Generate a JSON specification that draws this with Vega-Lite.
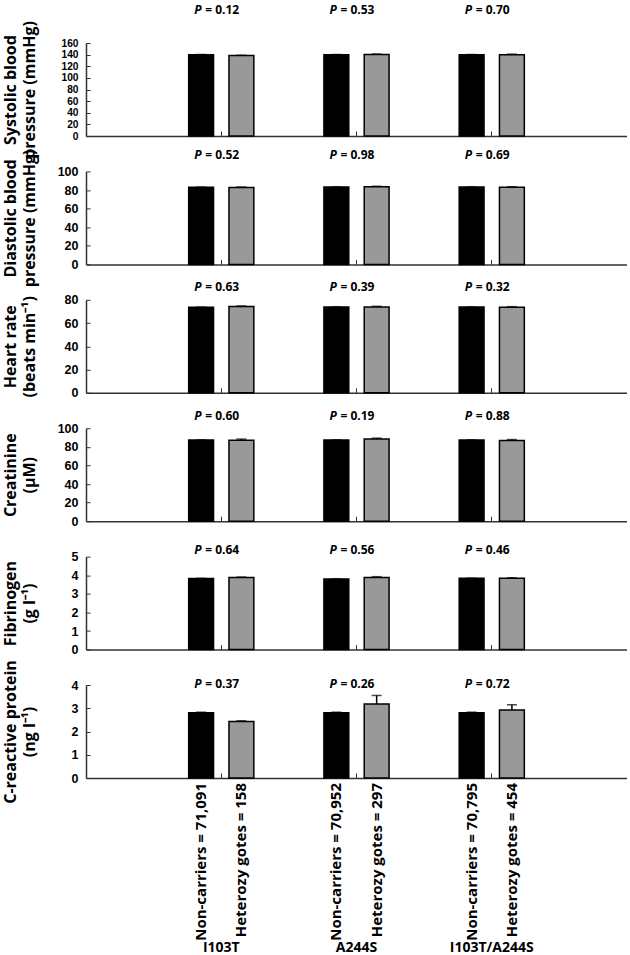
{
  "$schema": "https://vega.github.io/schema/vega-lite/v6.json",
  "padding": {"left": 2, "top": 3, "right": 0, "bottom": 0},
  "bounds": "flush",
  "spacing": 35.4,
  "datasets": {
    "bars": [
      {"measure": "SBP", "variant": "I103T", "genotype": "Non-carriers", "label": "Non-carriers = 71,091", "mean": 140, "hi": 140.2},
      {"measure": "SBP", "variant": "I103T", "genotype": "Heterozygotes", "label": "Heterozy gotes = 158", "mean": 138.3, "hi": 138.9},
      {"measure": "SBP", "variant": "A244S", "genotype": "Non-carriers", "label": "Non-carriers = 70,952", "mean": 140, "hi": 140.2},
      {"measure": "SBP", "variant": "A244S", "genotype": "Heterozygotes", "label": "Heterozy gotes = 297", "mean": 140.2, "hi": 141},
      {"measure": "SBP", "variant": "I103T/A244S", "genotype": "Non-carriers", "label": "Non-carriers = 70,795", "mean": 140, "hi": 140.2},
      {"measure": "SBP", "variant": "I103T/A244S", "genotype": "Heterozygotes", "label": "Heterozy gotes = 454", "mean": 140, "hi": 140.8},
      {"measure": "DBP", "variant": "I103T", "genotype": "Non-carriers", "label": "Non-carriers = 71,091", "mean": 83, "hi": 83.1},
      {"measure": "DBP", "variant": "I103T", "genotype": "Heterozygotes", "label": "Heterozy gotes = 158", "mean": 82.6, "hi": 83.2},
      {"measure": "DBP", "variant": "A244S", "genotype": "Non-carriers", "label": "Non-carriers = 70,952", "mean": 83.2, "hi": 83.3},
      {"measure": "DBP", "variant": "A244S", "genotype": "Heterozygotes", "label": "Heterozy gotes = 297", "mean": 83.5, "hi": 84},
      {"measure": "DBP", "variant": "I103T/A244S", "genotype": "Non-carriers", "label": "Non-carriers = 70,795", "mean": 83.2, "hi": 83.3},
      {"measure": "DBP", "variant": "I103T/A244S", "genotype": "Heterozygotes", "label": "Heterozy gotes = 454", "mean": 83, "hi": 83.5},
      {"measure": "HR", "variant": "I103T", "genotype": "Non-carriers", "label": "Non-carriers = 71,091", "mean": 73.6, "hi": 73.7},
      {"measure": "HR", "variant": "I103T", "genotype": "Heterozygotes", "label": "Heterozy gotes = 158", "mean": 74.2, "hi": 74.7},
      {"measure": "HR", "variant": "A244S", "genotype": "Non-carriers", "label": "Non-carriers = 70,952", "mean": 73.8, "hi": 73.9},
      {"measure": "HR", "variant": "A244S", "genotype": "Heterozygotes", "label": "Heterozy gotes = 297", "mean": 73.9, "hi": 74.4},
      {"measure": "HR", "variant": "I103T/A244S", "genotype": "Non-carriers", "label": "Non-carriers = 70,795", "mean": 73.7, "hi": 73.8},
      {"measure": "HR", "variant": "I103T/A244S", "genotype": "Heterozygotes", "label": "Heterozy gotes = 454", "mean": 73.6, "hi": 74.1},
      {"measure": "CRE", "variant": "I103T", "genotype": "Non-carriers", "label": "Non-carriers = 71,091", "mean": 87.3, "hi": 87.4},
      {"measure": "CRE", "variant": "I103T", "genotype": "Heterozygotes", "label": "Heterozy gotes = 158", "mean": 87, "hi": 88.3},
      {"measure": "CRE", "variant": "A244S", "genotype": "Non-carriers", "label": "Non-carriers = 70,952", "mean": 87.3, "hi": 87.4},
      {"measure": "CRE", "variant": "A244S", "genotype": "Heterozygotes", "label": "Heterozy gotes = 297", "mean": 88.3, "hi": 89.3},
      {"measure": "CRE", "variant": "I103T/A244S", "genotype": "Non-carriers", "label": "Non-carriers = 70,795", "mean": 87.3, "hi": 87.4},
      {"measure": "CRE", "variant": "I103T/A244S", "genotype": "Heterozygotes", "label": "Heterozy gotes = 454", "mean": 86.8, "hi": 87.8},
      {"measure": "FIB", "variant": "I103T", "genotype": "Non-carriers", "label": "Non-carriers = 71,091", "mean": 3.82, "hi": 3.83},
      {"measure": "FIB", "variant": "I103T", "genotype": "Heterozygotes", "label": "Heterozy gotes = 158", "mean": 3.87, "hi": 3.9},
      {"measure": "FIB", "variant": "A244S", "genotype": "Non-carriers", "label": "Non-carriers = 70,952", "mean": 3.79, "hi": 3.8},
      {"measure": "FIB", "variant": "A244S", "genotype": "Heterozygotes", "label": "Heterozy gotes = 297", "mean": 3.88, "hi": 3.92},
      {"measure": "FIB", "variant": "I103T/A244S", "genotype": "Non-carriers", "label": "Non-carriers = 70,795", "mean": 3.83, "hi": 3.84},
      {"measure": "FIB", "variant": "I103T/A244S", "genotype": "Heterozygotes", "label": "Heterozy gotes = 454", "mean": 3.83, "hi": 3.86},
      {"measure": "CRP", "variant": "I103T", "genotype": "Non-carriers", "label": "Non-carriers = 71,091", "mean": 2.81, "hi": 2.83},
      {"measure": "CRP", "variant": "I103T", "genotype": "Heterozygotes", "label": "Heterozy gotes = 158", "mean": 2.43, "hi": 2.46},
      {"measure": "CRP", "variant": "A244S", "genotype": "Non-carriers", "label": "Non-carriers = 70,952", "mean": 2.81, "hi": 2.83},
      {"measure": "CRP", "variant": "A244S", "genotype": "Heterozygotes", "label": "Heterozy gotes = 297", "mean": 3.18, "hi": 3.55},
      {"measure": "CRP", "variant": "I103T/A244S", "genotype": "Non-carriers", "label": "Non-carriers = 70,795", "mean": 2.81, "hi": 2.83},
      {"measure": "CRP", "variant": "I103T/A244S", "genotype": "Heterozygotes", "label": "Heterozy gotes = 454", "mean": 2.92, "hi": 3.15}
    ],
    "pvals": [
      {"measure": "SBP", "variant": "I103T", "ptext": "= 0.12"},
      {"measure": "SBP", "variant": "A244S", "ptext": "= 0.53"},
      {"measure": "SBP", "variant": "I103T/A244S", "ptext": "= 0.70"},
      {"measure": "DBP", "variant": "I103T", "ptext": "= 0.52"},
      {"measure": "DBP", "variant": "A244S", "ptext": "= 0.98"},
      {"measure": "DBP", "variant": "I103T/A244S", "ptext": "= 0.69"},
      {"measure": "HR", "variant": "I103T", "ptext": "= 0.63"},
      {"measure": "HR", "variant": "A244S", "ptext": "= 0.39"},
      {"measure": "HR", "variant": "I103T/A244S", "ptext": "= 0.32"},
      {"measure": "CRE", "variant": "I103T", "ptext": "= 0.60"},
      {"measure": "CRE", "variant": "A244S", "ptext": "= 0.19"},
      {"measure": "CRE", "variant": "I103T/A244S", "ptext": "= 0.88"},
      {"measure": "FIB", "variant": "I103T", "ptext": "= 0.64"},
      {"measure": "FIB", "variant": "A244S", "ptext": "= 0.56"},
      {"measure": "FIB", "variant": "I103T/A244S", "ptext": "= 0.46"},
      {"measure": "CRP", "variant": "I103T", "ptext": "= 0.37"},
      {"measure": "CRP", "variant": "A244S", "ptext": "= 0.26"},
      {"measure": "CRP", "variant": "I103T/A244S", "ptext": "= 0.72"}
    ]
  },
  "config": {
    "font": "Open Sans",
    "view": {"stroke": null},
    "axis": {
      "labelFont": "Open Sans", "labelFontWeight": "bold", "labelColor": "black", "labelFontSize": 12,
      "titleFont": "Open Sans", "titleFontWeight": "bold", "titleColor": "black", "titleFontSize": 16,
      "domainColor": "#333333", "domainWidth": 1.5, "tickColor": "#333333", "tickWidth": 1, "grid": false,
      "labelOverlap": false
    },
    "axisY": {"labelFont": "Liberation Sans", "labelFontSize": 12.5, "labelOverlap": false, "tickSize": -4, "labelPadding": 12, "titleX": -84, "titleBaseline": "top", "titleLineHeight": 19},
    "text": {"font": "Open Sans", "fontWeight": "bold", "fontSize": 12, "color": "black"}
  },
  "vconcat": [
    {
      "width": 541, "height": 93,
      "encoding": {
        "x": {"field": "variant", "type": "nominal", "sort": ["I103T", "A244S", "I103T/A244S"], "scale": {"paddingInner": 0, "paddingOuter": 0.5}, "axis": {"labels": false, "title": null, "tickSize": -5}}
      },
      "layer": [
        {"data": {"name": "bars"}, "transform": [{"filter": "datum.measure === 'SBP'"}], "mark": {"type": "bar", "stroke": "black", "strokeWidth": 1.5},
         "encoding": {
           "xOffset": {"field": "genotype", "type": "nominal", "sort": ["Non-carriers", "Heterozygotes"], "scale": {"paddingInner": 0.383, "paddingOuter": 0.87}},
           "y": {"field": "mean", "type": "quantitative", "scale": {"domain": [0, 160], "nice": false}, "axis": {"values": [0, 20, 40, 60, 80, 100, 120, 140, 160], "tickCount": 9, "labelFontSize": 10.2, "title": ["Systolic blood", "pressure (mmHg)"]}},
           "fill": {"field": "genotype", "type": "nominal", "scale": {"domain": ["Non-carriers", "Heterozygotes"], "range": ["#000000", "#999999"]}, "legend": null}
         }},
        {"data": {"name": "bars"}, "transform": [{"filter": "datum.measure === 'SBP'"}], "mark": {"type": "rule", "color": "black", "strokeWidth": 1.5},
         "encoding": {"xOffset": {"field": "genotype", "type": "nominal", "sort": ["Non-carriers", "Heterozygotes"]}, "y": {"field": "mean", "type": "quantitative"}, "y2": {"field": "hi"}}},
        {"data": {"name": "bars"}, "transform": [{"filter": "datum.measure === 'SBP'"}], "mark": {"type": "tick", "orient": "horizontal", "color": "black", "thickness": 1.5, "size": 10},
         "encoding": {"xOffset": {"field": "genotype", "type": "nominal", "sort": ["Non-carriers", "Heterozygotes"]}, "y": {"field": "hi", "type": "quantitative"}}},
        {"data": {"name": "pvals"}, "transform": [{"filter": "datum.measure === 'SBP'"}], "mark": {"type": "text", "fontStyle": "italic", "align": "left", "baseline": "bottom", "dx": -27, "dy": -26.5},
         "encoding": {"y": {"datum": 160}, "text": {"value": "P"}}},
        {"data": {"name": "pvals"}, "transform": [{"filter": "datum.measure === 'SBP'"}], "mark": {"type": "text", "align": "left", "baseline": "bottom", "dx": -16, "dy": -26.5},
         "encoding": {"y": {"datum": 160}, "text": {"field": "ptext"}}}
      ]
    },
    {
      "width": 541, "height": 93,
      "encoding": {
        "x": {"field": "variant", "type": "nominal", "sort": ["I103T", "A244S", "I103T/A244S"], "scale": {"paddingInner": 0, "paddingOuter": 0.5}, "axis": {"labels": false, "title": null, "tickSize": -5}}
      },
      "layer": [
        {"data": {"name": "bars"}, "transform": [{"filter": "datum.measure === 'DBP'"}], "mark": {"type": "bar", "stroke": "black", "strokeWidth": 1.5},
         "encoding": {
           "xOffset": {"field": "genotype", "type": "nominal", "sort": ["Non-carriers", "Heterozygotes"], "scale": {"paddingInner": 0.383, "paddingOuter": 0.87}},
           "y": {"field": "mean", "type": "quantitative", "scale": {"domain": [0, 100], "nice": false}, "axis": {"values": [0, 20, 40, 60, 80, 100], "tickCount": 6, "title": ["Diastolic blood", "pressure (mmHg)"]}},
           "fill": {"field": "genotype", "type": "nominal", "scale": {"domain": ["Non-carriers", "Heterozygotes"], "range": ["#000000", "#999999"]}, "legend": null}
         }},
        {"data": {"name": "bars"}, "transform": [{"filter": "datum.measure === 'DBP'"}], "mark": {"type": "rule", "color": "black", "strokeWidth": 1.5},
         "encoding": {"xOffset": {"field": "genotype", "type": "nominal", "sort": ["Non-carriers", "Heterozygotes"]}, "y": {"field": "mean", "type": "quantitative"}, "y2": {"field": "hi"}}},
        {"data": {"name": "bars"}, "transform": [{"filter": "datum.measure === 'DBP'"}], "mark": {"type": "tick", "orient": "horizontal", "color": "black", "thickness": 1.5, "size": 10},
         "encoding": {"xOffset": {"field": "genotype", "type": "nominal", "sort": ["Non-carriers", "Heterozygotes"]}, "y": {"field": "hi", "type": "quantitative"}}},
        {"data": {"name": "pvals"}, "transform": [{"filter": "datum.measure === 'DBP'"}], "mark": {"type": "text", "fontStyle": "italic", "align": "left", "baseline": "bottom", "dx": -27, "dy": -9.5},
         "encoding": {"y": {"datum": 100}, "text": {"value": "P"}}},
        {"data": {"name": "pvals"}, "transform": [{"filter": "datum.measure === 'DBP'"}], "mark": {"type": "text", "align": "left", "baseline": "bottom", "dx": -16, "dy": -9.5},
         "encoding": {"y": {"datum": 100}, "text": {"field": "ptext"}}}
      ]
    },
    {
      "width": 541, "height": 93,
      "encoding": {
        "x": {"field": "variant", "type": "nominal", "sort": ["I103T", "A244S", "I103T/A244S"], "scale": {"paddingInner": 0, "paddingOuter": 0.5}, "axis": {"labels": false, "title": null, "tickSize": -5}}
      },
      "layer": [
        {"data": {"name": "bars"}, "transform": [{"filter": "datum.measure === 'HR'"}], "mark": {"type": "bar", "stroke": "black", "strokeWidth": 1.5},
         "encoding": {
           "xOffset": {"field": "genotype", "type": "nominal", "sort": ["Non-carriers", "Heterozygotes"], "scale": {"paddingInner": 0.383, "paddingOuter": 0.87}},
           "y": {"field": "mean", "type": "quantitative", "scale": {"domain": [0, 80], "nice": false}, "axis": {"values": [0, 20, 40, 60, 80], "tickCount": 5, "title": ["Heart rate", "(beats min⁻¹)"]}},
           "fill": {"field": "genotype", "type": "nominal", "scale": {"domain": ["Non-carriers", "Heterozygotes"], "range": ["#000000", "#999999"]}, "legend": null}
         }},
        {"data": {"name": "bars"}, "transform": [{"filter": "datum.measure === 'HR'"}], "mark": {"type": "rule", "color": "black", "strokeWidth": 1.5},
         "encoding": {"xOffset": {"field": "genotype", "type": "nominal", "sort": ["Non-carriers", "Heterozygotes"]}, "y": {"field": "mean", "type": "quantitative"}, "y2": {"field": "hi"}}},
        {"data": {"name": "bars"}, "transform": [{"filter": "datum.measure === 'HR'"}], "mark": {"type": "tick", "orient": "horizontal", "color": "black", "thickness": 1.5, "size": 10},
         "encoding": {"xOffset": {"field": "genotype", "type": "nominal", "sort": ["Non-carriers", "Heterozygotes"]}, "y": {"field": "hi", "type": "quantitative"}}},
        {"data": {"name": "pvals"}, "transform": [{"filter": "datum.measure === 'HR'"}], "mark": {"type": "text", "fontStyle": "italic", "align": "left", "baseline": "bottom", "dx": -27, "dy": -5.5},
         "encoding": {"y": {"datum": 80}, "text": {"value": "P"}}},
        {"data": {"name": "pvals"}, "transform": [{"filter": "datum.measure === 'HR'"}], "mark": {"type": "text", "align": "left", "baseline": "bottom", "dx": -16, "dy": -5.5},
         "encoding": {"y": {"datum": 80}, "text": {"field": "ptext"}}}
      ]
    },
    {
      "width": 541, "height": 93,
      "encoding": {
        "x": {"field": "variant", "type": "nominal", "sort": ["I103T", "A244S", "I103T/A244S"], "scale": {"paddingInner": 0, "paddingOuter": 0.5}, "axis": {"labels": false, "title": null, "tickSize": -5}}
      },
      "layer": [
        {"data": {"name": "bars"}, "transform": [{"filter": "datum.measure === 'CRE'"}], "mark": {"type": "bar", "stroke": "black", "strokeWidth": 1.5},
         "encoding": {
           "xOffset": {"field": "genotype", "type": "nominal", "sort": ["Non-carriers", "Heterozygotes"], "scale": {"paddingInner": 0.383, "paddingOuter": 0.87}},
           "y": {"field": "mean", "type": "quantitative", "scale": {"domain": [0, 100], "nice": false}, "axis": {"values": [0, 20, 40, 60, 80, 100], "tickCount": 6, "title": ["Creatinine", "(μM)"]}},
           "fill": {"field": "genotype", "type": "nominal", "scale": {"domain": ["Non-carriers", "Heterozygotes"], "range": ["#000000", "#999999"]}, "legend": null}
         }},
        {"data": {"name": "bars"}, "transform": [{"filter": "datum.measure === 'CRE'"}], "mark": {"type": "rule", "color": "black", "strokeWidth": 1.5},
         "encoding": {"xOffset": {"field": "genotype", "type": "nominal", "sort": ["Non-carriers", "Heterozygotes"]}, "y": {"field": "mean", "type": "quantitative"}, "y2": {"field": "hi"}}},
        {"data": {"name": "bars"}, "transform": [{"filter": "datum.measure === 'CRE'"}], "mark": {"type": "tick", "orient": "horizontal", "color": "black", "thickness": 1.5, "size": 10},
         "encoding": {"xOffset": {"field": "genotype", "type": "nominal", "sort": ["Non-carriers", "Heterozygotes"]}, "y": {"field": "hi", "type": "quantitative"}}},
        {"data": {"name": "pvals"}, "transform": [{"filter": "datum.measure === 'CRE'"}], "mark": {"type": "text", "fontStyle": "italic", "align": "left", "baseline": "bottom", "dx": -27, "dy": -5},
         "encoding": {"y": {"datum": 100}, "text": {"value": "P"}}},
        {"data": {"name": "pvals"}, "transform": [{"filter": "datum.measure === 'CRE'"}], "mark": {"type": "text", "align": "left", "baseline": "bottom", "dx": -16, "dy": -5},
         "encoding": {"y": {"datum": 100}, "text": {"field": "ptext"}}}
      ]
    },
    {
      "width": 541, "height": 93,
      "encoding": {
        "x": {"field": "variant", "type": "nominal", "sort": ["I103T", "A244S", "I103T/A244S"], "scale": {"paddingInner": 0, "paddingOuter": 0.5}, "axis": {"labels": false, "title": null, "tickSize": -5}}
      },
      "layer": [
        {"data": {"name": "bars"}, "transform": [{"filter": "datum.measure === 'FIB'"}], "mark": {"type": "bar", "stroke": "black", "strokeWidth": 1.5},
         "encoding": {
           "xOffset": {"field": "genotype", "type": "nominal", "sort": ["Non-carriers", "Heterozygotes"], "scale": {"paddingInner": 0.383, "paddingOuter": 0.87}},
           "y": {"field": "mean", "type": "quantitative", "scale": {"domain": [0, 5], "nice": false}, "axis": {"values": [0, 1, 2, 3, 4, 5], "tickCount": 6, "title": ["Fibrinogen", "(g l⁻¹)"]}},
           "fill": {"field": "genotype", "type": "nominal", "scale": {"domain": ["Non-carriers", "Heterozygotes"], "range": ["#000000", "#999999"]}, "legend": null}
         }},
        {"data": {"name": "bars"}, "transform": [{"filter": "datum.measure === 'FIB'"}], "mark": {"type": "rule", "color": "black", "strokeWidth": 1.5},
         "encoding": {"xOffset": {"field": "genotype", "type": "nominal", "sort": ["Non-carriers", "Heterozygotes"]}, "y": {"field": "mean", "type": "quantitative"}, "y2": {"field": "hi"}}},
        {"data": {"name": "bars"}, "transform": [{"filter": "datum.measure === 'FIB'"}], "mark": {"type": "tick", "orient": "horizontal", "color": "black", "thickness": 1.5, "size": 10},
         "encoding": {"xOffset": {"field": "genotype", "type": "nominal", "sort": ["Non-carriers", "Heterozygotes"]}, "y": {"field": "hi", "type": "quantitative"}}},
        {"data": {"name": "pvals"}, "transform": [{"filter": "datum.measure === 'FIB'"}], "mark": {"type": "text", "fontStyle": "italic", "align": "left", "baseline": "bottom", "dx": -27, "dy": 0.5},
         "encoding": {"y": {"datum": 5}, "text": {"value": "P"}}},
        {"data": {"name": "pvals"}, "transform": [{"filter": "datum.measure === 'FIB'"}], "mark": {"type": "text", "align": "left", "baseline": "bottom", "dx": -16, "dy": 0.5},
         "encoding": {"y": {"datum": 5}, "text": {"field": "ptext"}}}
      ]
    },
    {
      "width": 541, "height": 93,
      "encoding": {
        "x": {"field": "variant", "type": "nominal", "sort": ["I103T", "A244S", "I103T/A244S"], "scale": {"paddingInner": 0, "paddingOuter": 0.5}, "axis": {"labels": true, "labelAngle": 0, "labelFontSize": 14, "labelPadding": 167, "title": null, "tickSize": -5}}
      },
      "layer": [
        {"data": {"name": "bars"}, "transform": [{"filter": "datum.measure === 'CRP'"}], "mark": {"type": "bar", "stroke": "black", "strokeWidth": 1.5},
         "encoding": {
           "xOffset": {"field": "genotype", "type": "nominal", "sort": ["Non-carriers", "Heterozygotes"], "scale": {"paddingInner": 0.383, "paddingOuter": 0.87}},
           "y": {"field": "mean", "type": "quantitative", "scale": {"domain": [0, 4], "nice": false}, "axis": {"values": [0, 1, 2, 3, 4], "tickCount": 5, "title": ["C-reactive protein", "(ng l⁻¹)"]}},
           "fill": {"field": "genotype", "type": "nominal", "scale": {"domain": ["Non-carriers", "Heterozygotes"], "range": ["#000000", "#999999"]}, "legend": null}
         }},
        {"data": {"name": "bars"}, "transform": [{"filter": "datum.measure === 'CRP'"}], "mark": {"type": "rule", "color": "black", "strokeWidth": 1.5},
         "encoding": {"xOffset": {"field": "genotype", "type": "nominal", "sort": ["Non-carriers", "Heterozygotes"]}, "y": {"field": "mean", "type": "quantitative"}, "y2": {"field": "hi"}}},
        {"data": {"name": "bars"}, "transform": [{"filter": "datum.measure === 'CRP'"}], "mark": {"type": "tick", "orient": "horizontal", "color": "black", "thickness": 1.5, "size": 10},
         "encoding": {"xOffset": {"field": "genotype", "type": "nominal", "sort": ["Non-carriers", "Heterozygotes"]}, "y": {"field": "hi", "type": "quantitative"}}},
        {"data": {"name": "bars"}, "transform": [{"filter": "datum.measure === 'CRP'"}], "mark": {"type": "text", "angle": 270, "align": "right", "baseline": "middle", "dx": -5, "fontSize": 15},
         "encoding": {"xOffset": {"field": "genotype", "type": "nominal", "sort": ["Non-carriers", "Heterozygotes"]}, "y": {"datum": 0}, "text": {"field": "label"}}},
        {"data": {"name": "pvals"}, "transform": [{"filter": "datum.measure === 'CRP'"}], "mark": {"type": "text", "fontStyle": "italic", "align": "left", "baseline": "bottom", "dx": -27, "dy": 5.5},
         "encoding": {"y": {"datum": 4}, "text": {"value": "P"}}},
        {"data": {"name": "pvals"}, "transform": [{"filter": "datum.measure === 'CRP'"}], "mark": {"type": "text", "align": "left", "baseline": "bottom", "dx": -16, "dy": 5.5},
         "encoding": {"y": {"datum": 4}, "text": {"field": "ptext"}}}
      ]
    }
  ]
}
